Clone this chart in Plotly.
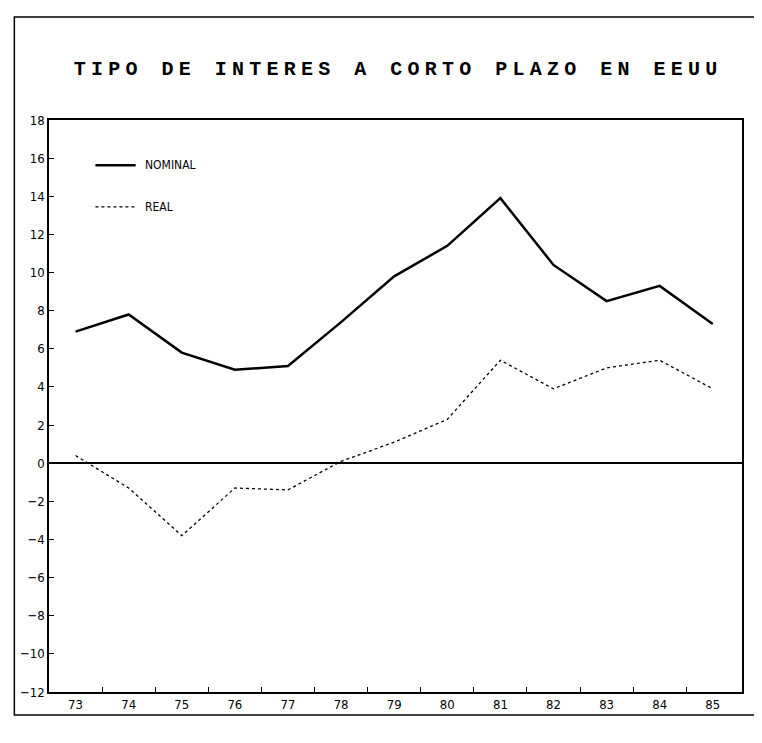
import plotly.graph_objects as go

# short-term US interest rates, 1973-1985
years = [73, 74, 75, 76, 77, 78, 79, 80, 81, 82, 83, 84, 85]
year_labels = ["73", "74", "75", "76", "77", "78", "79", "80", "81", "82", "83", "84", "85"]
nominal = [6.9, 7.8, 5.8, 4.9, 5.1, 7.4, 9.8, 11.4, 13.9, 10.4, 8.5, 9.3, 7.3]
real = [0.4, -1.3, -3.8, -1.3, -1.4, 0.1, 1.1, 2.3, 5.4, 3.9, 5.0, 5.4, 3.9]
y_ticks = [-12, -10, -8, -6, -4, -2, 0, 2, 4, 6, 8, 10, 12, 14, 16, 18]
series_names = ["NOMINAL", "REAL"]

narrow = "Liberation Sans Narrow, DejaVu Sans Condensed, sans-serif"
styles = [dict(color="black", width=2.5), dict(color="black", width=1.3, dash="dot")]

fig = go.Figure()
for name, vals, st in zip(series_names, [nominal, real], styles):
    fig.add_trace(go.Scatter(x=years, y=vals, name=name, mode="lines", line=st, showlegend=False))

# spaced-out letters like the old plotter font
thin, hair = "\u2009", "\u200a"
title = (thin * 6).join((thin + hair).join(w) for w in "TIPO DE INTERES A CORTO PLAZO EN EEUU".split())

# the page body has an 8px margin, so the figure is a bit smaller than the window
fig.update_layout(
    width=754, height=735,
    margin=dict(l=35, r=20, t=112, b=51),
    paper_bgcolor="white", plot_bgcolor="white",
    title=dict(text=title, x=0.5, xref="paper", y=0.918, yanchor="middle",
               font=dict(family="Liberation Mono, monospace", size=20, color="black", weight="bold")),
    showlegend=False,
    font=dict(family=narrow, size=13, color="black"),
)

fig.update_xaxes(
    range=[72.5, 85.55], tickvals=years, ticktext=year_labels, ticks="",
    showgrid=False, zeroline=False,
    showline=True, mirror=True, linecolor="black", linewidth=1.5,
    minor=dict(tickvals=[y + 0.5 for y in years[:-1]], ticks="inside", ticklen=5,
               tickcolor="black", showgrid=False),
    tickfont=dict(family=narrow, size=13),
)
fig.update_yaxes(
    range=[-12, 18], tickvals=y_ticks, ticks="inside", ticklen=5, tickcolor="black",
    showgrid=False, zeroline=True, zerolinecolor="black", zerolinewidth=1.5,
    showline=True, mirror=True, linecolor="black", linewidth=1.5,
    tickfont=dict(family=narrow, size=13),
)

# hand-drawn legend, the sample lines are longer than plotly's own
for name, st, ly in zip(series_names, styles, [0.921, 0.848]):
    fig.add_shape(type="line", xref="paper", yref="paper", x0=0.067, x1=0.125, y0=ly, y1=ly,
                  line=st)
    fig.add_annotation(text=name, xref="paper", yref="paper", x=0.136, y=ly,
                       xanchor="left", yanchor="middle", showarrow=False,
                       font=dict(family=narrow, size=12, color="black"))

# outer frame around the whole graphic
fig.add_shape(type="rect", xref="paper", yref="paper", x0=-0.05, x1=1.04, y0=-0.04, y1=1.18,
              line=dict(color="black", width=1.5), layer="below")

fig.write_html("out.html")
